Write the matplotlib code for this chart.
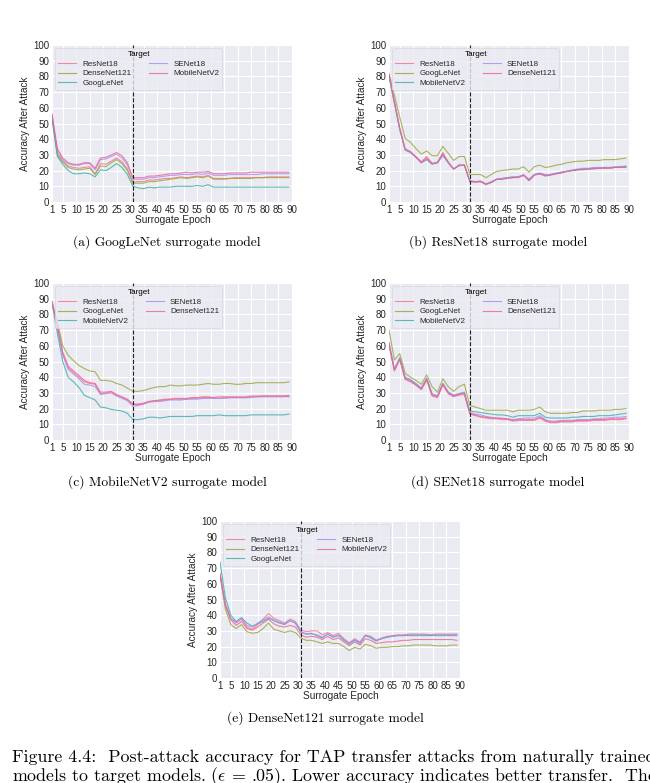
import matplotlib
matplotlib.use("Agg")
import matplotlib.pyplot as plt

plt.rcParams['font.family'] = ['Liberation Sans', 'DejaVu Sans']
plt.rcParams['mathtext.fontset'] = 'cm'

epochs = [1, 3, 5, 7, 9, 11, 13, 15, 17, 19, 21, 23, 25, 27, 29, 31,
          33, 35, 37, 39, 41, 43, 45, 47, 49, 51, 53, 55, 57, 59, 61,
          63, 65, 67, 69, 71, 73, 75, 77, 79, 81, 83, 85, 87, 89]
xticks = [1, 5, 10, 15, 20, 25, 30, 35, 40, 45, 50, 55, 60, 65, 70, 75, 80, 85, 90]

# (a) GoogLeNet surrogate
a_targets = ['ResNet18', 'DenseNet121', 'GoogLeNet', 'SENet18', 'MobileNetV2']
a_resnet18 = [55, 31, 26, 23, 22, 21.5, 22, 22.5, 18, 24.5, 24, 26, 28, 25.5, 21, 12.5,
              13, 13, 14, 14, 14.5, 15, 15, 15.5, 16, 15.5, 16, 16.5, 16, 17, 15,
              15, 15, 15, 15.5, 15.5, 15.5, 15.5, 15.5, 15.5, 16, 16, 16, 16, 16]
a_densenet121 = [54, 30, 25.5, 22, 21, 20.5, 21, 21.5, 17.5, 23, 22.5, 25, 27, 24.5, 20, 12,
                 12, 12, 13, 13, 13.5, 14, 14.5, 15, 15.5, 15, 15.5, 16, 15.5, 16.5, 14.5,
                 14.5, 14.5, 15, 15, 15, 15, 15, 15.5, 15.5, 15.5, 15.5, 15.5, 15.5, 15.5]
a_googlenet = [53, 29, 24, 20, 18, 18, 18.5, 18, 16, 20.5, 20, 22, 24.5, 22, 17.5, 10,
               9, 8.5, 9.5, 9, 9.5, 9.5, 9.5, 10, 10, 10, 10, 10.5, 10, 11, 9.5,
               9.5, 9.5, 9.5, 9.5, 9.5, 9.5, 9.5, 9.5, 9.5, 9.5, 9.5, 9.5, 9.5, 9.5]
a_senet18 = [56, 33, 27, 24.5, 23.5, 23.5, 24.5, 24.5, 20.5, 27, 27.5, 29, 30.5, 28, 23.5, 14.5,
             14.5, 14.5, 15.5, 15.5, 16, 16.5, 17, 17, 17.5, 17.5, 17.5, 18, 17.5, 18.5, 17,
             17, 17, 17.5, 17.5, 17.5, 17.5, 17.5, 17.5, 18, 18, 18, 18, 18, 18]
a_mobilenetv2 = [56, 34, 28, 25, 24, 24, 25, 25, 21.5, 28, 28.5, 30, 31.5, 29.5, 25, 15.5,
                 15.5, 15.5, 16.5, 16.5, 17, 17.5, 18, 18, 18.5, 19, 18.5, 19, 19, 19.5, 18,
                 18, 18, 18.5, 18.5, 18.5, 18.5, 19, 19, 19, 19, 19, 19, 19, 19]

# (b) ResNet18 surrogate
b_targets = ['ResNet18', 'GoogLeNet', 'MobileNetV2', 'SENet18', 'DenseNet121']
b_resnet18 = [81, 64, 47, 34, 32, 29, 25.5, 29, 24.5, 25.5, 31.5, 25.5, 21, 23.5, 23.5, 13.5,
              13, 13.5, 11.5, 12.5, 14.5, 15, 15.5, 16, 16, 17.5, 14, 17.5, 18, 17, 17.5,
              18, 18.5, 19.5, 20, 20.5, 21, 21, 21.5, 21.5, 21.5, 21.5, 22, 22, 22.5]
b_googlenet = [82, 68, 54, 40.5, 38, 34, 30.5, 32.5, 29.5, 29.5, 35.5, 31, 26.5, 29, 29, 17.5,
               17.5, 17.5, 15.5, 17.5, 19.5, 20, 20.5, 21, 21, 22.5, 19, 22.5, 23.5, 22, 22.5,
               23.5, 24, 25, 25.5, 26, 26, 26.5, 26.5, 26.5, 27, 27, 27, 27.5, 28]
b_mobilenetv2 = [80, 63, 46, 33, 31.5, 28.5, 25, 27, 24, 25, 29.5, 25, 21, 23.5, 23.5, 13,
                 13, 13, 11.5, 12.5, 14.5, 14.5, 15.5, 15.5, 16, 17, 14, 17.5, 18, 17, 17.5,
                 18, 19, 19.5, 20, 20.5, 21, 21, 21.5, 21.5, 22, 22, 22, 22.5, 22.5]
b_senet18 = [80, 63, 46, 33.5, 31.5, 28.5, 25.5, 27, 24.5, 25, 30, 25.5, 21, 23.5, 23.5, 13.5,
             13, 13, 11.5, 13, 14.5, 15, 15.5, 16, 16, 17, 14.5, 17.5, 18.5, 17.5, 17.5,
             18.5, 19, 19.5, 20.5, 21, 21.5, 21.5, 22, 22, 22, 22, 22.5, 22.5, 23]
b_densenet121 = [81, 64, 47, 33.5, 32, 28.5, 25, 28, 24.5, 25, 31, 25, 21, 23, 23.5, 13,
                 12.5, 13, 11, 12.5, 14.5, 14.5, 15, 15.5, 15.5, 17, 13.5, 17, 18, 16.5, 17,
                 18, 18.5, 19.5, 20, 20.5, 20.5, 21, 21, 21.5, 21.5, 21.5, 22, 22, 22]

# (c) MobileNetV2 surrogate
c_targets = ['ResNet18', 'GoogLeNet', 'MobileNetV2', 'SENet18', 'DenseNet121']
c_resnet18 = [88, 72, 55, 46, 43, 40, 37, 36, 35.5, 29.5, 30, 30.5, 28.5, 27, 25.5, 22.5,
              23, 23.5, 24.5, 25, 25, 25.5, 26, 26, 26, 26, 26.5, 26.5, 27, 27, 27,
              26.5, 27, 27, 27, 27, 27, 27.5, 27.5, 28, 28, 28, 28, 28, 28.5]
c_googlenet = [88, 75, 60, 54, 50.5, 47.5, 45.5, 44, 43.5, 38, 38, 37.5, 36, 35, 33, 31,
               31, 31.5, 32.5, 33.5, 34, 34, 35, 34.5, 34.5, 35, 35, 35, 35.5, 36, 35.5,
               35.5, 36, 36, 35.5, 35.5, 36, 36, 36.5, 36.5, 36.5, 36.5, 36.5, 36.5, 37]
c_mobilenetv2 = [87, 68, 50, 40, 37, 33.5, 28.5, 27, 25.5, 21, 20.5, 19.5, 19, 18.5, 17, 13,
                 13, 13.5, 14.5, 14.5, 14, 14.5, 15, 15, 15, 15, 15, 15.5, 15.5, 15.5, 15.5,
                 16, 15.5, 15.5, 15.5, 15.5, 15.5, 16, 16, 16, 16, 16, 16, 16, 16.5]
c_senet18 = [88, 71, 54, 45, 42, 39, 35.5, 35, 34, 29, 29.5, 30, 28, 26.5, 25, 21.5,
             22, 23, 24, 24.5, 24.5, 25, 25.5, 25.5, 25.5, 26, 26, 26, 26.5, 26.5, 26.5,
             26.5, 26.5, 27, 27, 27, 27, 27, 27.5, 27.5, 27.5, 27.5, 27.5, 27.5, 28]
c_densenet121 = [88, 73, 56, 47, 44, 41, 38, 36.5, 36, 30.5, 30.5, 31, 29, 27.5, 26, 23,
                 22.5, 23, 24.5, 25, 25.5, 26, 26, 26.5, 26.5, 26.5, 27, 27, 27.5, 27.5, 27,
                 27.5, 27.5, 27.5, 27.5, 27.5, 27.5, 28, 28, 28, 28, 28, 28, 28, 27.5]

# (d) SENet18 surrogate
d_targets = ['ResNet18', 'GoogLeNet', 'MobileNetV2', 'SENet18', 'DenseNet121']
d_resnet18 = [60, 44, 51, 38.5, 37, 35, 32, 38, 28, 27, 35, 29.5, 27.5, 28.5, 29, 16.5,
              15.5, 14.5, 14, 13.5, 13.5, 13, 13, 12, 12.5, 12.5, 12.5, 12.5, 14, 12, 11,
              11, 11.5, 11.5, 11.5, 12, 12, 12, 12.5, 12.5, 12.5, 13, 13, 13, 13.5]
d_googlenet = [70, 51, 55, 42.5, 40, 38, 35.5, 41.5, 34, 30.5, 39, 34, 31, 34, 35.5, 22,
               21, 20, 19, 19, 19, 19, 19, 18, 19, 19, 19, 19.5, 21, 18, 17,
               17, 17, 17, 17.5, 17.5, 18.5, 18.5, 18.5, 19, 19, 19, 19.5, 19.5, 20]
d_mobilenetv2 = [62, 45, 52.5, 40, 38.5, 36, 33, 39.5, 29.5, 28, 36, 30.5, 28.5, 29.5, 30.5, 18.5,
                 18, 17.5, 17, 16.5, 16, 16, 15.5, 14.5, 15.5, 15.5, 15.5, 15.5, 17, 14.5, 14,
                 14, 14, 14, 14.5, 14.5, 15, 15, 15, 15.5, 15.5, 15.5, 16, 16.5, 17]
d_senet18 = [62, 45, 52, 39.5, 38, 35.5, 33, 39, 29, 28, 36, 30.5, 28.5, 29.5, 30, 17.5,
             16.5, 16, 15, 14.5, 14, 14, 13.5, 13, 13.5, 14, 14, 14, 15.5, 13, 12,
             12, 12.5, 12.5, 12.5, 13, 13, 13, 13.5, 13.5, 14, 14, 14.5, 14.5, 15]
d_densenet121 = [61, 44.5, 51.5, 39, 37.5, 35, 32.5, 38.5, 28.5, 27.5, 35.5, 30, 28, 29, 29.5, 17,
                 16, 15, 14.5, 14, 14, 13.5, 13.5, 12.5, 13, 13, 13, 13, 14.5, 12.5, 11.5,
                 11.5, 12, 12, 12, 12.5, 12.5, 12.5, 13, 13, 13, 13.5, 13.5, 13.5, 14]

# (e) DenseNet121 surrogate
e_targets = ['ResNet18', 'DenseNet121', 'GoogLeNet', 'SENet18', 'MobileNetV2']
e_resnet18 = [66, 47, 38, 35, 37.5, 32.5, 31, 34, 37.5, 41, 38, 36.5, 35, 37.5, 36, 30.5,
              29.5, 30, 30, 27.5, 29, 27, 28.5, 25, 22.5, 25, 23, 27.5, 26.5, 24, 25.5,
              26.5, 27, 27.5, 27.5, 28, 28, 28, 28, 27.5, 28, 28, 28, 28, 28]
e_densenet121 = [65, 44, 34, 31.5, 34, 29.5, 28.5, 29, 31.5, 35, 31, 30, 29, 30, 29, 25.5,
                 24, 24, 23, 22, 23, 22, 22, 20, 17.5, 19.5, 18.5, 21.5, 20.5, 19, 19.5,
                 19.5, 20, 20, 20.5, 20.5, 21, 21, 21, 21, 20.5, 20.5, 20.5, 21, 21]
e_googlenet = [74, 51, 40, 36, 38.5, 35, 33, 34.5, 36, 38, 36.5, 35, 34, 36.5, 35, 29.5,
               28, 28.5, 27, 25.5, 28, 26, 27, 24, 21.5, 24, 22, 27, 25.5, 23.5, 25,
               26, 26.5, 27, 27, 27, 27, 27, 27, 27, 27, 27, 27, 27, 27]
e_senet18 = [67, 47, 38, 35.5, 38, 33.5, 32.5, 35, 37, 39, 37, 35.5, 34.5, 36.5, 35, 29,
             28, 28, 27.5, 26, 28, 26, 27.5, 24.5, 22, 24.5, 22.5, 27, 26, 24, 25,
             26, 26.5, 27, 27, 27.5, 27.5, 27.5, 27.5, 27.5, 27.5, 27.5, 27.5, 27.5, 27.5]
e_mobilenetv2 = [66, 46, 37, 33.5, 36, 31.5, 30.5, 32.5, 35, 37.5, 34.5, 33, 32.5, 33.5, 32.5, 27.5,
                 26, 26.5, 26, 24.5, 26.5, 24.5, 25.5, 23, 20.5, 23, 21, 25, 24, 22, 22.5,
                 23, 23, 23.5, 24, 24, 24.5, 24.5, 24.5, 24.5, 24.5, 24.5, 24.5, 24.5, 24]

colors = ['#f77189', '#97a431', '#36ada4', '#a48cf4', '#f0608f']

panels = [
    ([52, 45], a_targets, [a_resnet18, a_densenet121, a_googlenet, a_senet18, a_mobilenetv2],
     '(a) GoogLeNet surrogate model', [167, 242]),
    ([389, 45], b_targets, [b_resnet18, b_googlenet, b_mobilenetv2, b_senet18, b_densenet121],
     '(b) ResNet18 surrogate model', [498, 242]),
    ([52, 283], c_targets, [c_resnet18, c_googlenet, c_mobilenetv2, c_senet18, c_densenet121],
     '(c) MobileNetV2 surrogate model', [167, 482]),
    ([389, 283], d_targets, [d_resnet18, d_googlenet, d_mobilenetv2, d_senet18, d_densenet121],
     '(d) SENet18 surrogate model', [498, 482]),
    ([220, 521], e_targets, [e_resnet18, e_densenet121, e_googlenet, e_senet18, e_mobilenetv2],
     '(e) DenseNet121 surrogate model', [325, 718]),
]

W, H = 650, 783
fig = plt.figure(figsize=(6.5, 7.83), dpi=100)
fig.patch.set_facecolor('white')

for (left, top), targets, series, caption, (cx, cy) in panels:
    ax = fig.add_axes([left / W, 1 - (top + 157) / H, 241 / W, 157 / H])
    ax.set_facecolor('#eaeaf2')
    for s in ax.spines.values():
        s.set_visible(False)
    ax.grid(True, color='white', lw=0.8)
    ax.set_axisbelow(True)
    for name, vals, col in zip(targets, series, colors):
        ax.plot(epochs, vals, color=col, lw=0.8, alpha=0.8, label=name)
    ax.axvline(31, color='#222222', ls='--', lw=0.8)
    ax.set_xlim(1, 90.5)
    ax.set_ylim(0, 100)
    ax.set_xticks(xticks)
    ax.set_yticks(range(0, 101, 10))
    ax.tick_params(length=0, labelsize=7, colors='#262626', pad=2)
    ax.set_xlabel('Surrogate Epoch', fontsize=7.3, color='#262626', labelpad=0.5)
    ax.set_ylabel('Accuracy After Attack', fontsize=7.2, color='#262626', labelpad=2)
    leg = ax.legend(loc='upper left', ncol=2, title='Target', fontsize=5.8,
                    title_fontsize=5.8, columnspacing=2.2, handlelength=2.2,
                    borderpad=0.35, labelspacing=0.25, handletextpad=0.8, frameon=True,
                    facecolor='#eaeaf2', edgecolor='#d8d8e0', framealpha=0.8,
                    borderaxespad=0.4)
    leg.get_frame().set_linewidth(0.6)
    for t in leg.get_texts():
        t.set_color('#262626')
    fig.text(cx / W, 1 - cy / H, caption, ha='center', va='center',
             family='cmr10', fontsize=9.7)

fig.text(12 / W, 1 - 757 / H,
         'Figure 4.4:  Post-attack accuracy for TAP transfer attacks from naturally trained',
         ha='left', va='center', family='cmr10', fontsize=12.9)
fig.text(12 / W, 1 - 777 / H,
         r'models to target models. ($\epsilon$ = .05). Lower accuracy indicates better transfer.  The',
         ha='left', va='center', family='cmr10', fontsize=12.9)

fig.savefig('out.png', dpi=100)
